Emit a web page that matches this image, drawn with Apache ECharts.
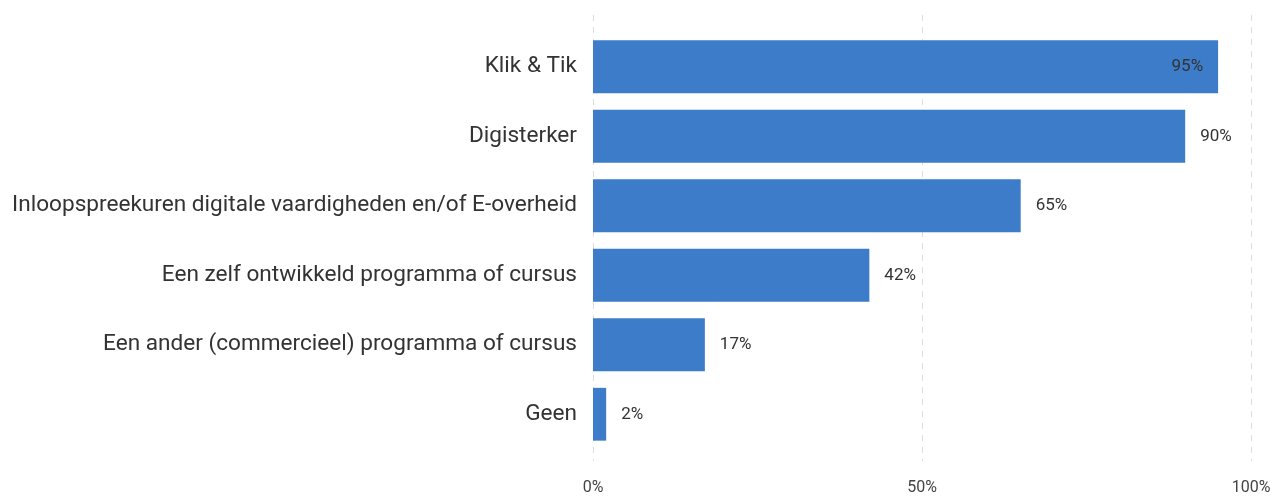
<!DOCTYPE html>
<html><head><meta charset="utf-8">
<script src="https://cdn.jsdelivr.net/npm/echarts@6/dist/echarts.min.js"></script>
<style>html,body{margin:0;padding:0;background:#fff}#c{width:1274px;height:496px}</style>
</head><body><div id="c"></div>
<script>
const categories = ["Klik & Tik","Digisterker","Inloopspreekuren digitale vaardigheden en/of E-overheid","Een zelf ontwikkeld programma of cursus","Een ander (commercieel) programma of cursus","Geen"];
const values = [95, 90, 65, 42, 17, 2];
const xTicks = [0, 50, 100];
const font = 'Roboto';
const chart = echarts.init(document.getElementById('c'));
chart.setOption({
  animation: false,
  grid: [
    {left: 593, right: 23, top: 15, bottom: 31},
    {left: 593, right: 23, top: 32, bottom: 47}
  ],
  xAxis: [
    {gridIndex: 0, type: 'value', min: 0, max: 100, interval: 50,
     axisLine: {show: false}, axisTick: {show: false},
     axisLabel: {formatter: v => xTicks.includes(v) ? v + '%' : '', color: '#444', fontFamily: font, fontSize: 16, margin: 19},
     splitLine: {show: true, lineStyle: {type: [6, 6], color: '#ddd', width: 1}}},
    {gridIndex: 1, type: 'value', min: 0, max: 100, show: false}
  ],
  yAxis: [
    {gridIndex: 0, type: 'category', data: categories, show: false, inverse: true},
    {gridIndex: 1, type: 'category', data: categories, inverse: true,
     axisLine: {show: false}, axisTick: {show: false},
     axisLabel: {color: '#333', fontFamily: font, fontSize: 22.6, margin: 16}}
  ],
  series: [{
    type: 'bar', xAxisIndex: 1, yAxisIndex: 1,
    data: values.map((v, i) => ({value: v, label: i === 0 ? {position: 'insideRight', distance: 15} : {}})),
    barCategoryGap: '24%',
    itemStyle: {color: '#3d7cc9'},
    label: {show: true, position: 'right', distance: 15, formatter: '{c}%', color: '#333', fontFamily: font, fontSize: 17}
  }]
});
</script></body></html>
